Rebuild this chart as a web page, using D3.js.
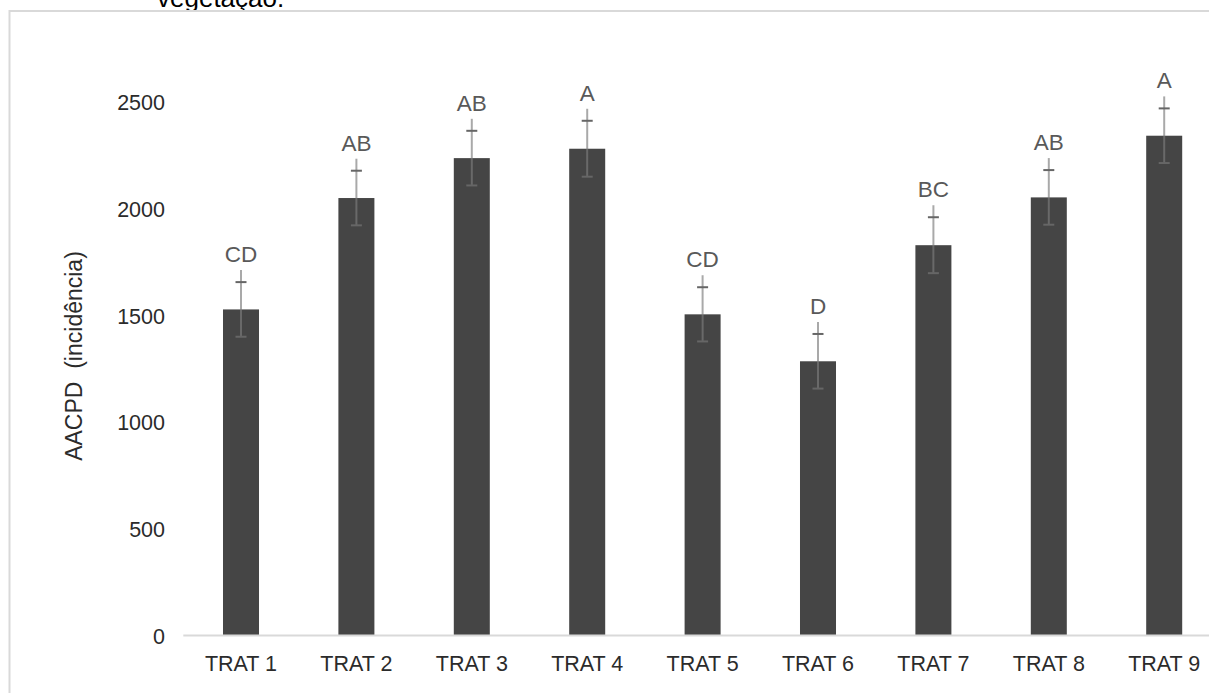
<!DOCTYPE html>
<html>
<head>
<meta charset="utf-8">
<script src="https://cdn.jsdelivr.net/npm/d3@7"></script>
<style>
  html, body { margin: 0; padding: 0; background: #fff; }
  svg { display: block; font-family: "Liberation Sans", Arial, sans-serif; }
</style>
</head>
<body>
<svg id="chart" width="1209" height="693"></svg>
<script>
// ---- data ----
const categories = ["TRAT 1", "TRAT 2", "TRAT 3", "TRAT 4", "TRAT 5", "TRAT 6", "TRAT 7", "TRAT 8", "TRAT 9"];
const values = [1528, 2050, 2237, 2281, 1505, 1285, 1829, 2053, 2342];
const errors = [128, 128, 128, 131, 127, 128, 131, 128, 128];
const letters = ["CD", "AB", "AB", "A", "CD", "D", "BC", "AB", "A"];
const yTicks = [0, 500, 1000, 1500, 2000, 2500];
const yTitle = "AACPD  (incidência)";
const captionTail = "vegetação.";

// ---- layout ----
const svg = d3.select("#chart");
const W = 1209, H = 693;
const plotLeft = 183.3, step = 115.4;
const baseY = 635.5, topY = 102;

const x = d3.scaleBand()
  .domain(categories)
  .range([plotLeft, plotLeft + step * categories.length])
  .paddingInner(0.688)
  .paddingOuter(0.344);

const y = d3.scaleLinear().domain([0, 2500]).range([baseY, topY]);

// caption fragment cut at top
svg.append("text")
  .attr("x", 157).attr("y", 7)
  .attr("font-size", 26).attr("fill", "#000")
  .text(captionTail);

// chart area border
svg.append("rect")
  .attr("x", 9.5).attr("y", 11)
  .attr("width", W + 20).attr("height", H + 20)
  .attr("fill", "none").attr("stroke", "#d9d9d9").attr("stroke-width", 2);

// y axis (labels only)
const yAxis = d3.axisLeft(y).tickValues(yTicks).tickSize(0).tickPadding(0).tickFormat(d3.format("d"));
const gy = svg.append("g").attr("transform", `translate(165,0)`).call(yAxis);
gy.select(".domain").remove();
gy.selectAll("text")
  .attr("font-size", 21.5)
  .attr("fill", "#2b2b2b")
  .attr("font-family", "Liberation Sans, Arial, sans-serif")
  .attr("dy", "0.36em");

// bars
svg.append("g").selectAll("rect")
  .data(categories)
  .join("rect")
  .attr("x", d => x(d))
  .attr("width", x.bandwidth())
  .attr("y", (d, i) => y(values[i]))
  .attr("height", (d, i) => y(0) - y(values[i]))
  .attr("fill", "#454545");

// x axis line
svg.append("line")
  .attr("x1", plotLeft).attr("x2", W)
  .attr("y1", baseY).attr("y2", baseY)
  .attr("stroke", "#d9d9d9").attr("stroke-width", 2);

// x axis labels
const xAxis = d3.axisBottom(x).tickSize(0).tickPadding(0);
const gx = svg.append("g").attr("transform", `translate(0,${baseY})`).call(xAxis);
gx.select(".domain").remove();
gx.selectAll("text")
  .attr("font-size", 21.5)
  .attr("fill", "#2b2b2b")
  .attr("font-family", "Liberation Sans, Arial, sans-serif")
  .attr("dy", null)
  .attr("y", 35);

// error bars + leader lines + letters
const labelGap = 20;   // px above upper cap to label baseline
const leaderGap = 8;   // px between leader top and label
const eb = svg.append("g");
categories.forEach((c, i) => {
  const cx = x(c) + x.bandwidth() / 2;
  const yUp = y(values[i] + errors[i]);
  const yLo = y(values[i] - errors[i]);
  const labY = yUp - labelGap;
  eb.append("line")
    .attr("x1", cx).attr("x2", cx)
    .attr("y1", yLo).attr("y2", labY + leaderGap)
    .attr("stroke", "rgb(125,125,125)").attr("stroke-opacity", 0.66)
    .attr("stroke-width", 2);
  [yUp, yLo].forEach(yy => {
    eb.append("line")
      .attr("x1", cx - 5.5).attr("x2", cx + 5.5)
      .attr("y1", yy).attr("y2", yy)
      .attr("stroke", "#666").attr("stroke-width", 2);
  });
  eb.append("text")
    .attr("x", cx).attr("y", labY)
    .attr("text-anchor", "middle")
    .attr("font-size", 22.5)
    .attr("fill", "#595959")
    .text(letters[i]);
});

// y title
svg.append("text")
  .attr("transform", "translate(82,356) rotate(-90)")
  .attr("text-anchor", "middle")
  .attr("font-size", 23)
  .attr("fill", "#2b2b2b")
  .style("white-space", "pre")
  .text(yTitle);
</script>
</body>
</html>
